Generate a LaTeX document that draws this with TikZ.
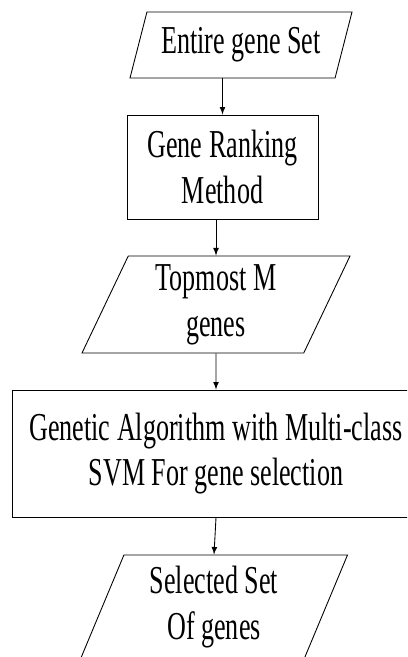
\documentclass[tikz,border=0pt]{standalone}
\usepackage{fontspec}
\setmainfont[FakeStretch=0.66]{Liberation Serif}
\usetikzlibrary{shapes.geometric}

\tikzset{
  iobox/.style={draw, trapezium, trapezium left angle=62, trapezium right angle=118,
    trapezium stretches body, align=center, inner sep=0pt,
    font=\fontsize{22.5}{26}\selectfont},
  procbox/.style={draw, rectangle, align=center, inner sep=0pt,
    font=\fontsize{22.5}{26}\selectfont},
}

\begin{document}
\begin{tikzpicture}[line width=0.5pt]
\useasboundingbox (0,0) rectangle (8.14,-13.14);
\clip (0,0) rectangle (8.14,-13.14);

\node[iobox, trapezium left angle=64, trapezium right angle=116, minimum width=4.44cm, minimum height=1.32cm] (s1) at (4.82,-0.90) {Entire gene Set};
\node[procbox, minimum width=3.82cm, minimum height=2.08cm] (p1) at (4.45,-3.34) {Gene Ranking\\Method};
\node[iobox, trapezium left angle=60, trapezium right angle=120, minimum width=5.36cm, minimum height=1.94cm] (s2) at (4.32,-6.09) {Topmost M\\genes};
\node[procbox, minimum width=8.16cm, minimum height=2.54cm] (p2) at (4.32,-9.07) {Genetic Algorithm with Multi-class\\SVM For gene selection};
\node[iobox, minimum width=5.34cm, minimum height=2.08cm] (s3) at (4.28,-12.14) {Selected Set\\Of genes};

\draw [->,>=latex] (s1.south -| p1.north) -- (p1.north);
\draw [->,>=latex] (p1.south -| s2.north) -- (s2.north);
\draw [->,>=latex] (s2.south) -- (p2.north);
\draw [->,>=latex] (p2.south) -- (s3.north);

\end{tikzpicture}
\end{document}
